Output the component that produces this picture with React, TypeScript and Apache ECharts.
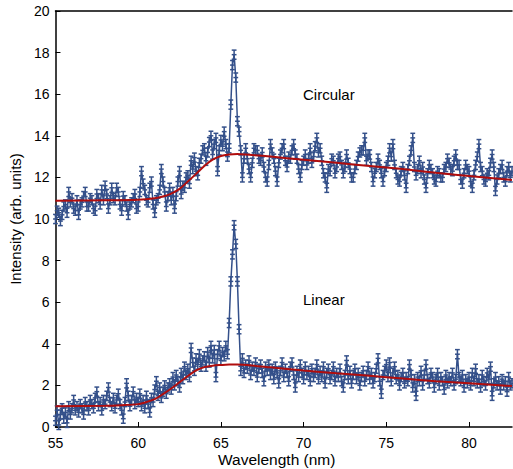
import React, { useEffect, useRef } from "react";
import * as echarts from "echarts";

// Circular data: 55.0 nm, step 0.1 nm
const circStart = 55.0;
const circStep = 0.1;
const circValues = [
  10.0, 10.4, 10.3, 9.9, 10.2, 10.6, 10.7, 10.3, 11.3, 10.8,
  11.0, 10.5, 10.4, 10.9, 10.2, 10.7, 10.8, 11.1, 11.3, 10.6,
  10.6, 11.0, 10.9, 10.5, 10.4, 11.2, 11.0, 10.7, 11.4, 10.9,
  11.6, 11.2, 10.5, 10.9, 11.5, 11.0, 10.9, 11.5, 11.3, 10.7,
  10.4, 11.1, 10.9, 10.6, 10.2, 10.7, 10.8, 11.0, 11.2, 10.5,
  10.6, 11.3, 12.3, 11.7, 11.4, 10.9, 10.8, 11.5, 11.8, 10.7,
  10.3, 10.9, 11.0, 11.4, 12.4, 11.8, 11.3, 10.6, 11.1, 11.5,
  10.9, 11.3, 10.5, 11.1, 11.8, 12.3, 11.2, 11.6, 11.5, 12.0,
  12.1, 11.7, 12.8, 12.4, 12.95, 12.3, 12.1, 12.7, 12.9, 13.3,
  13.4, 12.8, 13.2, 13.7, 14.0, 13.1, 13.6, 13.9, 12.3, 13.3,
  13.8, 13.5, 14.2, 13.6, 13.0, 13.4, 15.5, 17.4, 17.9, 16.8,
  14.7, 14.2, 13.3, 12.0, 12.9, 13.4, 12.9, 12.4, 12.0, 12.7,
  13.4, 13.3, 13.3, 12.9, 12.8, 13.2, 12.5, 12.0, 11.8, 12.6,
  13.6, 13.2, 12.9, 12.3, 11.8, 12.7, 13.1, 13.4, 13.6, 12.8,
  12.5, 13.0, 12.9, 13.3, 13.6, 13.1, 12.9, 12.4, 12.0, 12.6,
  12.8, 13.1, 12.6, 12.9, 13.4, 12.7, 13.0, 13.5, 13.9, 13.2,
  13.4, 12.8, 12.2, 12.0, 11.5, 12.4, 12.3, 12.9, 12.8, 12.2,
  12.5, 12.9, 13.0, 12.6, 12.2, 12.5, 13.1, 12.7, 12.4, 12.0,
  12.0, 12.4, 12.6, 13.0, 13.2, 13.3, 13.3, 13.9, 12.8, 13.1,
  13.1, 12.5, 11.8, 12.2, 12.5, 12.9, 12.6, 12.2, 11.8, 12.3,
  12.5, 12.8, 13.4, 13.0, 13.6, 12.6, 12.2, 11.9, 11.8, 12.3,
  12.5, 12.1, 11.5, 12.4, 12.8, 13.3, 13.9, 12.5, 12.1, 12.4,
  12.8, 12.2, 12.5, 11.9, 11.5, 12.2, 12.6, 12.4, 12.2, 11.9,
  11.8, 12.3, 12.2, 12.0, 12.0, 12.4, 12.5, 12.9, 12.7, 12.4,
  12.3, 12.8, 13.1, 12.6, 12.6, 11.9, 11.7, 12.2, 12.6, 12.4,
  12.3, 11.8, 11.5, 12.1, 12.6, 13.0, 13.6, 12.5, 12.3, 11.9,
  11.8, 12.2, 12.1, 12.7, 13.1, 12.5, 11.35, 11.9, 12.2, 12.4,
  12.6, 12.0, 11.8, 12.3, 12.5, 12.0, 12.3,
];

// Linear data: 55.0 nm, step 0.1 nm
const linStart = 55.0;
const linStep = 0.1;
const linValues = [
  0.3, 0.8, 0.1, 0.6, 0.9, 0.4, 0.7, 0.2, 1.0, 0.6,
  0.9, 1.3, 0.8, 1.0, 0.7, 1.1, 0.9, 0.6, 1.2, 1.0,
  0.8, 1.3, 1.1, 0.9, 1.4, 1.7, 1.0, 1.2, 0.8, 1.3,
  1.1, 1.5, 1.9, 1.2, 1.0, 1.4, 0.9, 1.3, 1.6, 1.1,
  0.8, 0.4, 1.2, 2.1, 1.5, 1.0, 1.3, 1.7, 1.1, 1.4,
  1.2, 1.6, 1.0, 1.3, 0.9, 1.5, 1.1, 0.7, 1.4, 1.2,
  1.8, 2.2, 1.5, 1.9, 1.4, 1.7, 2.0, 1.6, 1.9, 2.1,
  1.8, 2.4, 2.0, 2.5, 2.2, 1.9, 2.6, 2.3, 2.9, 2.5,
  2.8, 2.4, 3.8, 3.1, 2.7, 3.3, 3.0, 3.5, 2.9, 3.2,
  3.4, 2.9, 3.6, 3.1, 3.9, 3.3, 3.7, 2.4, 3.5, 3.9,
  3.2, 3.6, 3.4, 3.9, 3.5, 5.0, 7.0, 8.3, 9.7, 8.8,
  7.0, 4.7, 2.7, 3.3, 2.6, 3.0, 2.8, 3.2, 2.5, 2.9,
  2.7, 3.1, 2.4, 2.8, 3.0, 2.6, 2.2, 2.9, 2.7, 3.0,
  2.5, 2.8, 2.3, 2.9, 2.6, 2.1, 2.7, 3.1, 2.4, 2.8,
  2.6, 2.2, 2.9, 3.1, 2.5, 1.9, 2.7, 2.4, 3.0, 2.6,
  2.3, 2.9, 2.5, 2.7, 2.2, 2.8, 2.4, 2.6, 3.0, 2.3,
  2.7, 2.4, 2.9, 2.1, 2.6, 2.8, 2.3, 2.5, 2.9, 2.2,
  2.6, 2.4, 2.8, 2.2, 1.9, 2.5, 3.2, 2.3, 2.7, 2.1,
  2.5, 2.8, 2.3, 2.6, 2.0, 2.4, 2.7, 2.2, 2.5, 2.9,
  2.3, 2.6, 2.1, 2.4, 2.8, 3.3, 2.2, 1.6, 2.5, 2.7,
  3.0, 2.4, 3.1, 2.2, 2.6, 2.9, 2.3, 2.5, 2.0, 2.4,
  2.6, 2.1, 2.4, 2.2, 3.0, 2.5, 1.9, 2.3, 1.5, 2.4,
  2.2, 2.7, 2.0, 2.5, 3.0, 2.3, 2.1, 2.6, 2.4, 1.9,
  2.3, 2.6, 2.0, 2.4, 2.2, 1.8, 2.5, 2.1, 2.4, 2.2,
  2.6, 2.0, 2.3, 3.5, 2.4, 2.2, 2.5, 1.9, 2.3, 2.1,
  2.4, 2.0, 2.6, 2.2, 2.8, 2.1, 2.3, 1.9, 2.5, 2.2,
  2.0, 2.6, 2.3, 2.9, 1.5, 2.1, 2.4, 2.0, 2.2, 1.8,
  2.3, 2.0, 2.2, 1.7, 2.4, 2.0, 2.1,
];

const errHalf = 0.22;

// Fit curves
const fitCircX = [55, 58, 60, 61, 61.5, 62, 62.5, 63, 63.5, 64, 64.5, 65, 65.5, 66, 66.5, 67, 68, 70, 72, 74, 76, 78, 80, 82.6];
const fitCircY = [10.88, 10.9, 10.93, 11.0, 11.08, 11.22, 11.45, 11.8, 12.17, 12.55, 12.85, 13.03, 13.1, 13.12, 13.1, 13.07, 13.0, 12.85, 12.7, 12.55, 12.4, 12.22, 12.07, 11.88];
const fitLinX = [55, 58, 59, 60, 60.5, 61, 61.5, 62, 62.5, 63, 63.5, 64, 64.5, 65, 65.5, 66, 67, 68, 70, 72, 74, 76, 78, 80, 82.6];
const fitLinY = [1.0, 1.02, 1.05, 1.1, 1.2, 1.34, 1.58, 1.85, 2.15, 2.45, 2.72, 2.88, 2.95, 2.98, 3.0, 3.0, 2.95, 2.87, 2.72, 2.58, 2.46, 2.33, 2.2, 2.1, 1.97];

const xTicks = [55, 60, 65, 70, 75, 80];
const yTicks = [0, 2, 4, 6, 8, 10, 12, 14, 16, 18, 20];

const BLUE = "#34508a";
const RED = "#b00d0d";
const FONT = "'Liberation Sans', Arial, Helvetica, sans-serif";

function toPairs(start: number, step: number, vals: number[]) {
  return vals.map((v, i) => [+(start + i * step).toFixed(3), v]);
}

function errorSeries(data: number[][]) {
  return {
    type: "custom",
    z: 3,
    data,
    encode: { x: 0, y: 1 },
    renderItem: (params: any, api: any) => {
      const x = api.value(0);
      const y = api.value(1);
      const top = api.coord([x, y + errHalf]);
      const bot = api.coord([x, y - errHalf]);
      const mid = api.coord([x, y]);
      const w = 2.4;
      const style = { stroke: BLUE, lineWidth: 1.5 };
      return {
        type: "group",
        children: [
          { type: "line", shape: { x1: top[0], y1: top[1], x2: bot[0], y2: bot[1] }, style },
          { type: "line", shape: { x1: top[0] - w, y1: top[1], x2: top[0] + w, y2: top[1] }, style },
          { type: "line", shape: { x1: bot[0] - w, y1: bot[1], x2: bot[0] + w, y2: bot[1] }, style },
          { type: "line", shape: { x1: mid[0] - w, y1: mid[1], x2: mid[0] + w, y2: mid[1] }, style },
        ],
      };
    },
  };
}

export default function App() {
  const ref = useRef<HTMLDivElement>(null);
  useEffect(() => {
    if (!ref.current) return;
    const chart = echarts.init(ref.current, null, { renderer: "svg" });
    const circData = toPairs(circStart, circStep, circValues);
    const linData = toPairs(linStart, linStep, linValues);
    const fitC = fitCircX.map((x, i) => [x, fitCircY[i]]);
    const fitL = fitLinX.map((x, i) => [x, fitLinY[i]]);
    chart.setOption({
      animation: false,
      textStyle: { fontFamily: FONT },
      grid: { left: 55, right: 1, top: 11, bottom: 42, containLabel: false },
      xAxis: [
        {
          type: "value",
          min: 55,
          max: 82.6,
          interval: 5,
          axisLine: { lineStyle: { color: "#000", width: 1.5 } },
          axisTick: { inside: true, length: 5, lineStyle: { color: "#000" } },
          axisLabel: {
            fontSize: 14,
            color: "#000",
            margin: 9,
            fontFamily: FONT,
            showMaxLabel: false,
            formatter: (v: number) => (xTicks.includes(v) ? String(v) : ""),
          },
          splitLine: { show: false },
        },
        {
          type: "value",
          position: "top",
          min: 55,
          max: 82.6,
          axisLine: { show: true, lineStyle: { color: "#000", width: 1.5 } },
          axisTick: { show: false },
          axisLabel: { show: false },
          splitLine: { show: false },
        },
      ],
      yAxis: {
        type: "value",
        min: 0,
        max: 20,
        interval: 2,
        name: "Intensity (arb. units)",
        nameLocation: "middle",
        nameGap: 31,
        nameTextStyle: { fontSize: 15, color: "#000", fontFamily: FONT },
        axisLine: { show: true, lineStyle: { color: "#000", width: 1.5 } },
        axisTick: { inside: true, length: 5, lineStyle: { color: "#000" } },
        axisLabel: {
          fontSize: 14,
          color: "#000",
          margin: 6,
          fontFamily: FONT,
          formatter: (v: number) => (yTicks.includes(v) ? String(v) : ""),
        },
        splitLine: { show: false },
      },
      series: [
        {
          type: "line",
          data: circData,
          symbol: "none",
          lineStyle: { color: BLUE, width: 1.5 },
          z: 2,
        },
        errorSeries(circData),
        {
          type: "line",
          data: linData,
          symbol: "none",
          lineStyle: { color: BLUE, width: 1.5 },
          z: 2,
        },
        errorSeries(linData),
        {
          type: "line",
          data: fitC,
          smooth: 0.3,
          symbol: "none",
          lineStyle: { color: RED, width: 2 },
          z: 5,
        },
        {
          type: "line",
          data: fitL,
          smooth: 0.3,
          symbol: "none",
          lineStyle: { color: RED, width: 2 },
          z: 5,
        },
      ],
      graphic: [
        {
          type: "text",
          left: 303,
          top: 87,
          style: { text: "Circular", fontSize: 15, fill: "#000", fontFamily: FONT },
        },
        {
          type: "text",
          left: 303,
          top: 292,
          style: { text: "Linear", fontSize: 15, fill: "#000", fontFamily: FONT },
        },
        {
          type: "text",
          left: 218,
          top: 451,
          style: { text: "Wavelength (nm)", fontSize: 15.5, fill: "#000", fontFamily: FONT },
        },
      ],
    });
    return () => chart.dispose();
  }, []);
  return <div ref={ref} style={{ width: 513, height: 469, position: "absolute", left: 0, top: 0 }} />;
}
